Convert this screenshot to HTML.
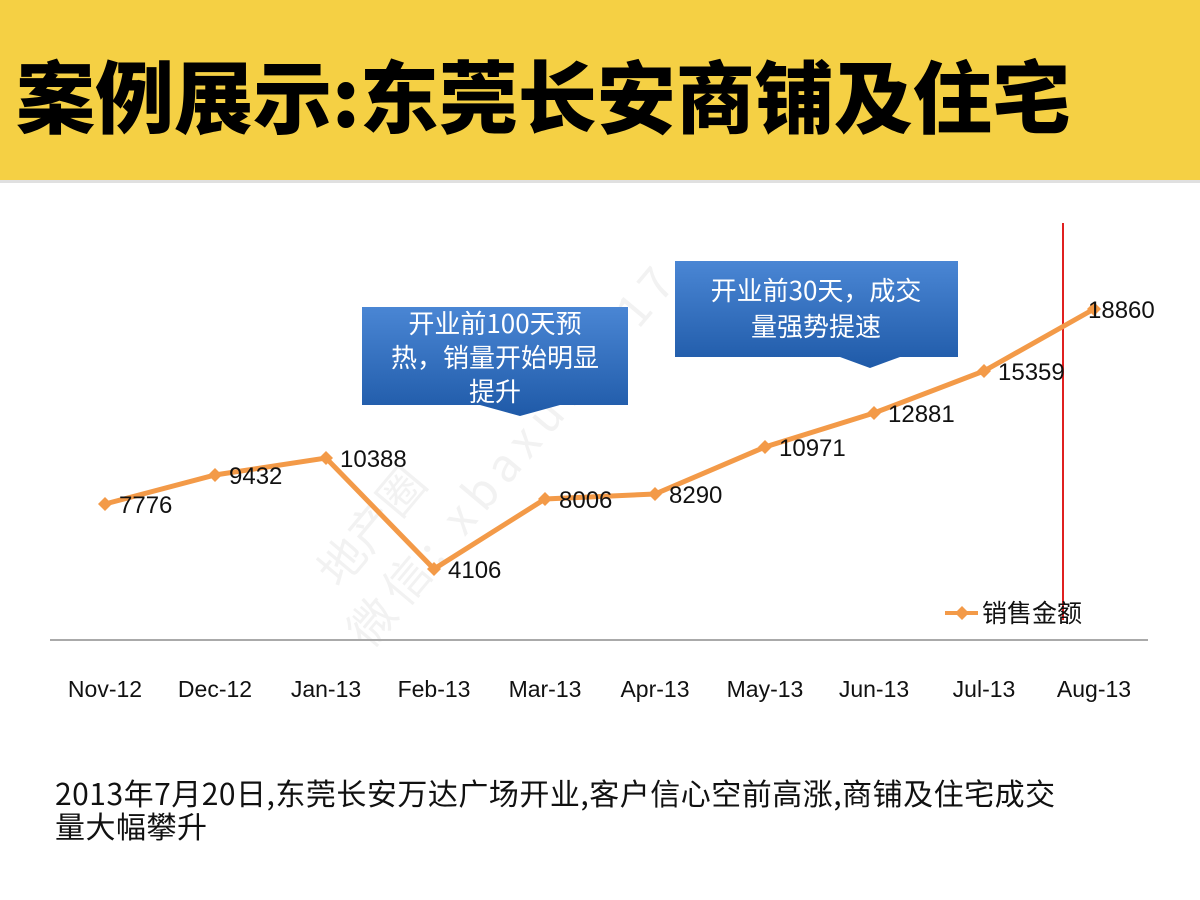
<!DOCTYPE html>
<html><head><meta charset="utf-8"><style>
body{margin:0;width:1200px;height:900px;background:#fff;overflow:hidden;position:relative;font-family:"Liberation Sans","Noto Sans CJK SC",sans-serif}
.band{position:absolute;left:0;top:0;width:1200px;height:180px;background:#f5d044;border-bottom:3px solid #e0e0e0}
.title{position:absolute;left:16px;top:35px;font-size:79px;font-weight:900;letter-spacing:0px;color:#000;white-space:nowrap;font-family:"Noto Sans CJK SC",sans-serif}
.bottom{position:absolute;left:55px;top:776px;font-size:30px;line-height:33px;color:#111;font-family:"Noto Sans CJK SC",sans-serif;letter-spacing:0.5px}
</style></head><body>
<div class="band"></div>
<div class="title">案例展示:东莞长安商铺及住宅</div>
<svg width="1200" height="900" style="position:absolute;left:0;top:0">
<defs><linearGradient id="g" x1="0" y1="0" x2="0" y2="1"><stop offset="0" stop-color="#4a86d4"/><stop offset="1" stop-color="#1f5aa8"/></linearGradient></defs>
<text x="370" y="650" font-size="46" fill="#f2f2f2" transform="rotate(-50 370 650)" font-family="Noto Sans CJK SC,sans-serif" letter-spacing="8">微信: xbaxun2017</text>
<text x="340" y="590" font-size="46" fill="#f2f2f2" transform="rotate(-50 340 590)" font-family="Noto Sans CJK SC,sans-serif">地产圈</text>
<g font-family="Noto Sans CJK SC, sans-serif" font-size="26" fill="#fff" text-anchor="middle">
<path d="M362,307H628V405H560L520,416L480,405H362Z" fill="url(#g)"/>
<text x="495" y="333">开业前100天预</text><text x="495" y="367">热，销量开始明显</text><text x="495" y="401">提升</text>
<path d="M675,261H958V357H900L870,368L840,357H675Z" fill="url(#g)"/>
<text x="816" y="300">开业前30天，成交</text><text x="816" y="336">量强势提速</text>
</g>
<line x1="50" y1="640" x2="1148" y2="640" stroke="#aaa" stroke-width="2"/>
<line x1="1063" y1="223" x2="1063" y2="620" stroke="#e02020" stroke-width="2"/>
<polyline fill="none" stroke="#f39a48" stroke-width="5" points="105,504 215,475 326,458 434,569 545,499 655,494 765,447 874,413 984,371 1094,309"/>
<g fill="#f39a48">
<path d="M105,497l7,7-7,7-7-7z"/><path d="M215,468l7,7-7,7-7-7z"/><path d="M326,451l7,7-7,7-7-7z"/><path d="M434,562l7,7-7,7-7-7z"/><path d="M545,492l7,7-7,7-7-7z"/><path d="M655,487l7,7-7,7-7-7z"/><path d="M765,440l7,7-7,7-7-7z"/><path d="M874,406l7,7-7,7-7-7z"/><path d="M984,364l7,7-7,7-7-7z"/><path d="M1094,302l7,7-7,7-7-7z"/>
<line x1="945" y1="613" x2="978" y2="613" stroke="#f39a48" stroke-width="4"/><path d="M962,606l7,7-7,7-7-7z"/>
</g>
<g font-size="24" fill="#111">
<text x="119" y="513">7776</text><text x="229" y="484">9432</text><text x="340" y="467">10388</text><text x="448" y="578">4106</text><text x="559" y="508">8006</text><text x="669" y="503">8290</text><text x="779" y="456">10971</text><text x="888" y="422">12881</text><text x="998" y="380">15359</text><text x="1088" y="318">18860</text>
<text x="982" y="622" font-size="25" font-family="Noto Sans CJK SC,sans-serif">销售金额</text>
</g>
<g font-size="23" fill="#111" text-anchor="middle">
<text x="105" y="697">Nov-12</text><text x="215" y="697">Dec-12</text><text x="326" y="697">Jan-13</text><text x="434" y="697">Feb-13</text><text x="545" y="697">Mar-13</text><text x="655" y="697">Apr-13</text><text x="765" y="697">May-13</text><text x="874" y="697">Jun-13</text><text x="984" y="697">Jul-13</text><text x="1094" y="697">Aug-13</text>
</g>
</svg>
<div class="bottom">2013年7月20日,东莞长安万达广场开业,客户信心空前高涨,商铺及住宅成交<br>量大幅攀升</div>
</body></html>
